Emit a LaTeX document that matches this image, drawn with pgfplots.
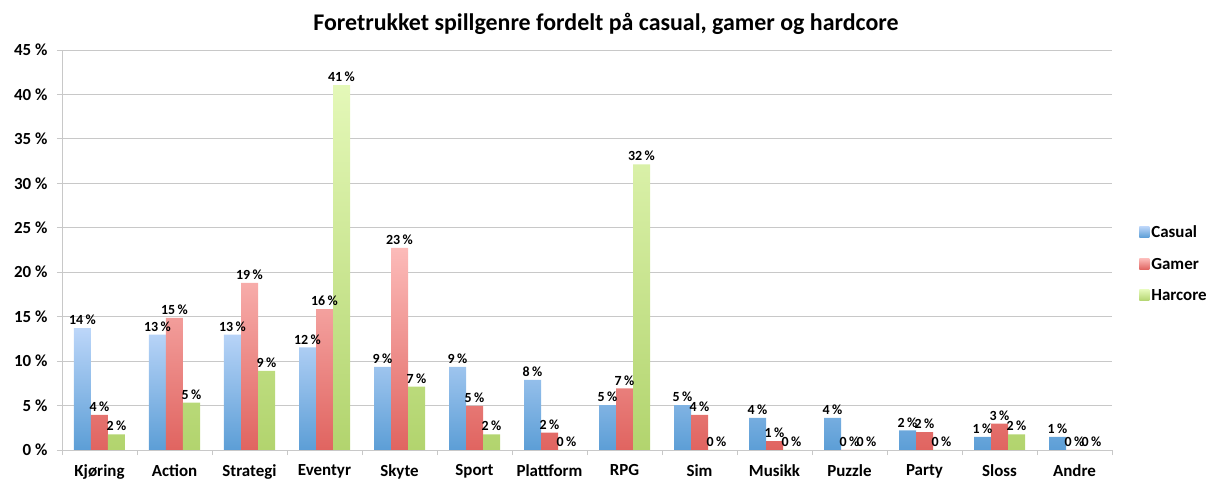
\documentclass[border=0pt]{standalone}
\usepackage{fontspec}
\setmainfont{Carlito}
\usepackage{pgfplots}
\pgfplotsset{compat=1.18}
\definecolor{cbtop}{RGB}{188,214,249}
\definecolor{cbbot}{RGB}{92,158,214}
\definecolor{crtop}{RGB}{252,187,185}
\definecolor{crbot}{RGB}{224,100,96}
\definecolor{cgtop}{RGB}{228,248,184}
\definecolor{cgbot}{RGB}{178,212,110}
\definecolor{gridc}{RGB}{200,200,200}
\begin{document}
\begin{tikzpicture}
\useasboundingbox (-62bp,-32bp) rectangle (1156bp,450bp);
\begin{axis}[
  at={(0,0)}, anchor=south west,
  scale only axis, width=1050bp, height=400bp,
  ybar=0pt, bar width=17bp,
  xmin=-0.5, xmax=13.5, ymin=0, ymax=45,
  axis lines*=left,
  axis line style={draw=gridc, line width=1pt},
  xtick={0,...,13},
  xticklabels={Kjøring,Action,Strategi,Eventyr,Skyte,Sport,Plattform,RPG,Sim,Musikk,Puzzle,Party,Sloss,Andre},
  minor xtick={-0.5,0.5,...,13.5},
  major x tick style={draw=none},
  minor x tick style={draw=gridc, line width=1pt},
  minor tick length=5bp,
  ytick={0,5,...,45},
  yticklabels={0~\%,5~\%,10~\%,15~\%,20~\%,25~\%,30~\%,35~\%,40~\%,45~\%},
  y tick style={draw=gridc, line width=1pt},
  major tick length=5bp,
  tick align=outside,
  ymajorgrids, grid style={draw=gridc, line width=1pt},
  /pgf/number format/assume math mode=true,
  ticklabel style={font=\bfseries\fontsize{17}{20}\selectfont},
  xticklabel style={yshift=-6bp},
  yticklabel style={xshift=-6bp},
  title={Foretrukket spillgenre fordelt på casual, gamer og hardcore},
  title style={font=\bfseries\fontsize{24}{28}\selectfont, yshift=6bp, xshift=19bp},
  nodes near coords={\pgfmathprintnumber[fixed,precision=0]{\pgfplotspointmeta}\hspace{0.18em}\%},
  every node near coord/.append style={font=\bfseries\fontsize{14}{16}\selectfont, black, inner sep=3bp},
  legend style={at={(1.023,0.465)}, anchor=west, draw=none, fill=none,
    font=\bfseries\fontsize{17}{20}\selectfont, row sep=15bp},
  legend cell align=left,
  legend image code/.code={\path[#1] (0bp,-5bp) rectangle (10bp,6bp);},
  clip=false,
]
\addplot[draw=none, top color=cbtop, bottom color=cbbot] coordinates {
(0,13.7) (1,12.97) (2,12.97) (3,11.54) (4,9.36) (5,9.36) (6,7.89) (7,5.04) (8,5.04) (9,3.6) (10,3.6) (11,2.2) (12,1.47) (13,1.47)};
\addplot[draw=none, top color=crtop, bottom color=crbot] coordinates {
(0,3.95) (1,14.85) (2,18.8) (3,15.86) (4,22.74) (5,4.96) (6,1.95) (7,6.92) (8,3.95) (9,1.0) (10,0) (11,2.0) (12,2.97) (13,0)};
\addplot[draw=none, top color=cgtop, bottom color=cgbot] coordinates {
(0,1.77) (1,5.34) (2,8.9) (3,41.05) (4,7.14) (5,1.77) (6,0) (7,32.14) (8,0) (9,0) (10,0) (11,0) (12,1.77) (13,0)};
\legend{Casual,Gamer,Harcore}
\end{axis}
\end{tikzpicture}
\end{document}
